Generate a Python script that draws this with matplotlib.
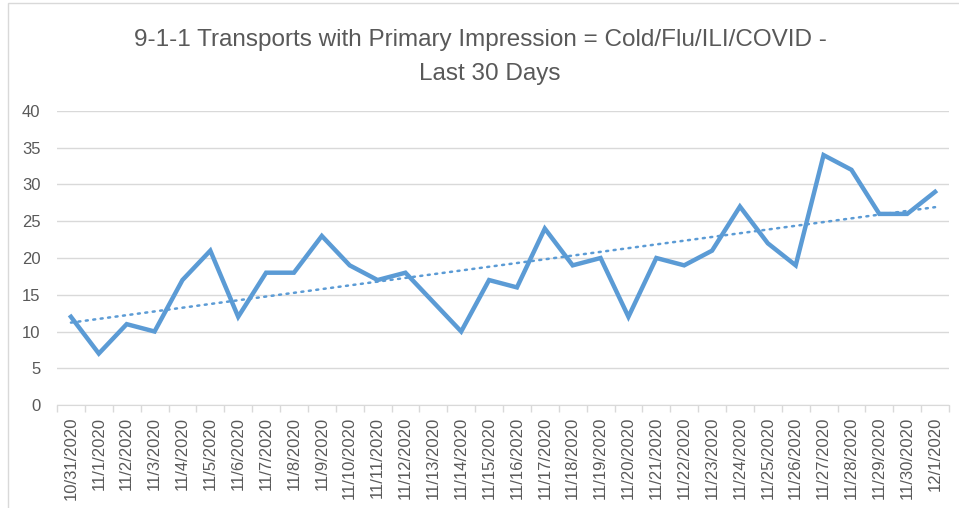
import matplotlib.pyplot as plt
import numpy as np
from matplotlib.patches import Rectangle

# Daily transports, last 30 days
dates = ['10/31/2020', '11/1/2020', '11/2/2020', '11/3/2020', '11/4/2020', '11/5/2020',
         '11/6/2020', '11/7/2020', '11/8/2020', '11/9/2020', '11/10/2020', '11/11/2020',
         '11/12/2020', '11/13/2020', '11/14/2020', '11/15/2020', '11/16/2020', '11/17/2020',
         '11/18/2020', '11/19/2020', '11/20/2020', '11/21/2020', '11/22/2020', '11/23/2020',
         '11/24/2020', '11/25/2020', '11/26/2020', '11/27/2020', '11/28/2020', '11/29/2020',
         '11/30/2020', '12/1/2020']
transports = [12, 7, 11, 10, 17, 21, 12, 18, 18, 23, 19, 17, 18, 14, 10, 17, 16, 24,
              19, 20, 12, 20, 19, 21, 27, 22, 19, 34, 32, 26, 26, 29]
y_ticks = [0, 5, 10, 15, 20, 25, 30, 35, 40]

plt.rcParams['font.family'] = ['Liberation Sans', 'DejaVu Sans']

blue = '#5B9BD5'
grey = '#595959'
grid = '#D9D9D9'

fig = plt.figure(figsize=(9.59, 5.08), dpi=100)
ax = fig.add_axes([57 / 959, 1 - 405 / 508, (949 - 57) / 959, (405 - 111) / 508])

# chart border
fig.patches.append(Rectangle((8 / 959, -0.1), 1.2, 1 - 3 / 508 + 0.1, transform=fig.transFigure,
                             fill=False, edgecolor=grid, linewidth=1))

x = np.arange(len(dates))
ax.plot(x, transports, color=blue, linewidth=3.2, solid_joinstyle='miter', zorder=3)

# linear trendline
slope, intercept = np.polyfit(x, transports, 1)
ax.plot(x, slope * x + intercept, color=blue, linestyle=(0, (0.8, 2.2)), linewidth=1.8,
        dash_capstyle='round', zorder=3)

ax.set_xlim(-0.5, len(dates) - 0.5)
ax.set_ylim(0, 40)
ax.set_yticks(y_ticks)
ax.set_xticks(x)
ax.set_xticklabels(dates, rotation=90)
ax.set_xticks(np.arange(-0.5, len(dates), 1), minor=True)
ax.tick_params(axis='x', which='major', length=0, pad=8.5, labelsize=12, labelcolor=grey)
ax.tick_params(axis='x', which='minor', length=5, color=grid, width=1)
ax.tick_params(axis='y', length=0, pad=12, labelsize=12, labelcolor=grey)

ax.grid(axis='y', color=grid, linewidth=1)
ax.set_axisbelow(True)
for side in ['top', 'right', 'left']:
    ax.spines[side].set_visible(False)
ax.spines['bottom'].set_color(grid)

fig.text(480 / 959, 1 - 46 / 508, '9-1-1 Transports with Primary Impression = Cold/Flu/ILI/COVID -',
         ha='center', va='baseline', fontsize=17.5, color=grey)
fig.text(490 / 959, 1 - 80 / 508, 'Last 30 Days', ha='center', va='baseline', fontsize=17.5, color=grey)

fig.savefig('out.png', dpi=100)
